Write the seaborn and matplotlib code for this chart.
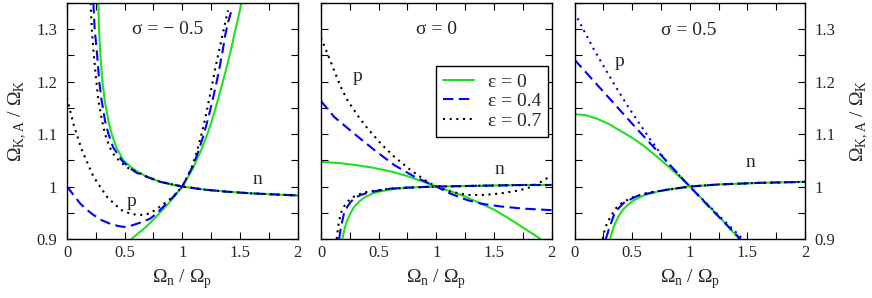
import matplotlib
matplotlib.use("Agg")
import matplotlib.pyplot as plt
import seaborn as sns
from matplotlib.ticker import MultipleLocator, FixedLocator
from matplotlib.lines import Line2D

# ---------------- data ----------------
eps_labels = ["ε = 0", "ε = 0.4", "ε = 0.7"]
sigma_labels = ["σ = − 0.5", "σ = 0", "σ = 0.5"]
x_ticks = [0, 0.5, 1, 1.5, 2]
x_tick_labels = ["0", "0.5", "1", "1.5", "2"]
y_ticks = [0.9, 1.0, 1.1, 1.2, 1.3]
y_tick_labels = ["0.9", "1", "1.1", "1.2", "1.3"]

# common tail of the n-curves (x > 1)
s1_n_tail_x = [1.2, 1.4, 1.6, 1.8, 2.0]
s1_n_tail_y = [0.994, 0.990, 0.987, 0.985, 0.983]
s2_n_tail_x = [1.25, 1.5, 1.75, 2.0]
s2_n_tail_y = [1.001, 1.002, 1.003, 1.003]
s3_n_tail_x = [1.25, 1.6, 2.0]
s3_n_tail_y = [1.004, 1.007, 1.009]

# sigma = -0.5
s1_p_e0_x = [0.56, 0.62, 0.69, 0.75, 0.81, 0.87, 0.92, 0.96, 1.0, 1.05, 1.1, 1.16, 1.215, 1.26, 1.30, 1.34, 1.38, 1.42, 1.452, 1.483, 1.513]
s1_p_e0_y = [0.90, 0.911, 0.924, 0.937, 0.951, 0.965, 0.978, 0.989, 1.0, 1.018, 1.038, 1.067, 1.098, 1.128, 1.158, 1.19, 1.223, 1.258, 1.29, 1.319, 1.35]
s1_p_e4_x = [0.0, 0.06, 0.113, 0.17, 0.229, 0.30, 0.374, 0.44, 0.49, 0.55, 0.606, 0.66, 0.722, 0.78, 0.838, 0.924, 1.0, 1.09, 1.14, 1.185, 1.225, 1.258, 1.292, 1.322, 1.35, 1.374, 1.40, 1.43]
s1_p_e4_y = [1.0, 0.983, 0.968, 0.956, 0.946, 0.936, 0.929, 0.925, 0.923, 0.925, 0.929, 0.933, 0.939, 0.949, 0.962, 0.981, 1.0, 1.038, 1.067, 1.098, 1.13, 1.16, 1.193, 1.225, 1.258, 1.29, 1.315, 1.338]
s1_p_e7_x = [0.0, 0.055, 0.128, 0.229, 0.345, 0.42, 0.475, 0.54, 0.606, 0.66, 0.722, 0.809, 0.924, 1.0, 1.08, 1.125, 1.165, 1.2, 1.229, 1.26, 1.287, 1.32, 1.35, 1.375, 1.397]
s1_p_e7_y = [1.169, 1.120, 1.070, 1.019, 0.981, 0.965, 0.955, 0.949, 0.946, 0.946, 0.949, 0.962, 0.981, 1.0, 1.035, 1.065, 1.098, 1.13, 1.162, 1.195, 1.226, 1.26, 1.29, 1.315, 1.336]
s1_n_e0_x = [0.272, 0.278, 0.29, 0.307, 0.33, 0.36, 0.388, 0.43, 0.49, 0.55, 0.62, 0.70, 0.81, 0.90, 1.0]
s1_n_e0_y = [1.35, 1.30, 1.25, 1.20, 1.16, 1.125, 1.10, 1.074, 1.05, 1.038, 1.027, 1.018, 1.009, 1.004, 1.0]
s1_n_e4_x = [0.229, 0.24, 0.258, 0.28, 0.30, 0.33, 0.36, 0.40, 0.475, 0.54, 0.606, 0.70, 0.81, 1.0]
s1_n_e4_y = [1.35, 1.30, 1.26, 1.20, 1.165, 1.125, 1.10, 1.075, 1.050, 1.036, 1.026, 1.018, 1.009, 1.0]
s1_n_e7_x = [0.205, 0.215, 0.229, 0.25, 0.272, 0.30, 0.33, 0.37, 0.417, 0.475, 0.533, 0.62, 0.70, 0.81, 1.0]
s1_n_e7_y = [1.35, 1.30, 1.26, 1.21, 1.165, 1.13, 1.10, 1.075, 1.057, 1.045, 1.035, 1.027, 1.018, 1.009, 1.0]

# sigma = 0
s2_p_e0_x = [0.0, 0.15, 0.3, 0.45, 0.6, 0.75, 0.875, 1.0, 1.125, 1.25, 1.375, 1.5, 1.625, 1.75, 1.83, 1.904]
s2_p_e0_y = [1.047, 1.045, 1.041, 1.036, 1.029, 1.020, 1.010, 1.0, 0.991, 0.981, 0.969, 0.956, 0.940, 0.922, 0.911, 0.90]
s2_p_e4_x = [0.0, 0.113, 0.287, 0.461, 0.635, 0.809, 1.0, 1.128, 1.272, 1.4, 1.562, 1.75, 2.0]
s2_p_e4_y = [1.163, 1.133, 1.101, 1.070, 1.041, 1.019, 1.0, 0.986, 0.974, 0.967, 0.962, 0.958, 0.955]
s2_p_e7_x = [0.0, 0.055, 0.113, 0.171, 0.229, 0.316, 0.403, 0.519, 0.635, 0.78, 0.924, 1.0, 1.128, 1.272, 1.42, 1.562, 1.7, 1.794, 1.91, 2.0]
s2_p_e7_y = [1.284, 1.254, 1.222, 1.19, 1.165, 1.136, 1.111, 1.082, 1.057, 1.031, 1.009, 1.0, 0.99, 0.984, 0.984, 0.987, 0.992, 0.997, 1.009, 1.021]
s2_n_e0_x = [0.186, 0.195, 0.21, 0.229, 0.26, 0.287, 0.33, 0.374, 0.45, 0.519, 0.62, 0.722, 0.85, 1.0]
s2_n_e0_y = [0.90, 0.91, 0.924, 0.936, 0.951, 0.961, 0.971, 0.979, 0.987, 0.991, 0.995, 0.997, 0.999, 1.0]
s2_n_e4_x = [0.157, 0.175, 0.2, 0.23, 0.258, 0.30, 0.345, 0.42, 0.49, 0.6, 0.75, 1.0]
s2_n_e4_y = [0.90, 0.925, 0.949, 0.962, 0.971, 0.979, 0.984, 0.989, 0.992, 0.996, 0.998, 1.0]
s2_n_e7_x = [0.136, 0.15, 0.171, 0.2, 0.229, 0.27, 0.316, 0.38, 0.461, 0.6, 0.75, 1.0]
s2_n_e7_y = [0.90, 0.925, 0.949, 0.962, 0.971, 0.979, 0.984, 0.989, 0.992, 0.996, 0.998, 1.0]

# sigma = 0.5
s3_p_e0_x = [0.0, 0.1, 0.2, 0.3, 0.4, 0.5, 0.6, 0.7, 0.8, 0.9, 1.0, 1.1, 1.2, 1.3, 1.428]
s3_p_e0_y = [1.138, 1.136, 1.129, 1.119, 1.106, 1.093, 1.078, 1.060, 1.041, 1.021, 1.0, 0.978, 0.955, 0.932, 0.90]
s3_p_e4_x = [0.0, 0.25, 0.5, 0.75, 1.0, 1.2, 1.44]
s3_p_e4_y = [1.242, 1.181, 1.120, 1.060, 1.0, 0.954, 0.90]
s3_p_e7_x = [0.0, 0.08, 0.167, 0.283, 0.37, 0.457, 0.56, 0.66, 0.804, 1.0, 1.2, 1.46]
s3_p_e7_y = [1.332, 1.298, 1.262, 1.218, 1.186, 1.155, 1.121, 1.089, 1.046, 1.0, 0.956, 0.90]
s3_n_e0_x = [0.31, 0.32, 0.34, 0.37, 0.40, 0.43, 0.457, 0.511, 0.56, 0.602, 0.657, 0.73, 0.804, 0.9, 1.0]
s3_n_e0_y = [0.90, 0.909, 0.923, 0.938, 0.95, 0.958, 0.964, 0.973, 0.979, 0.983, 0.987, 0.991, 0.994, 0.997, 1.0]
s3_n_e4_x = [0.272, 0.30, 0.341, 0.38, 0.428, 0.543, 0.66, 0.804, 1.0]
s3_n_e4_y = [0.90, 0.92, 0.945, 0.958, 0.969, 0.982, 0.988, 0.994, 1.0]
s3_n_e7_x = [0.245, 0.265, 0.286, 0.352, 0.40, 0.486, 0.63, 0.804, 1.0]
s3_n_e7_y = [0.90, 0.92, 0.932, 0.957, 0.967, 0.978, 0.988, 0.994, 1.0]

p_label_pos = [(0.56, 0.972), (0.32, 1.21), (0.39, 1.238)]
n_label_pos = [(1.65, 1.013), (1.55, 1.032), (1.53, 1.045)]
sigma_label_pos = [(0.87, 1.30), (1.0, 1.30), (0.99, 1.297)]

# ---------------- style ----------------
sns.set_theme(style="ticks")
plt.rcParams["font.family"] = ["Liberation Serif", "DejaVu Serif"]
plt.rcParams["mathtext.fontset"] = "custom"
plt.rcParams["mathtext.rm"] = "Liberation Serif"

GREEN = "#1fe01f"
BLUE = "#0000ff"
BLACK = "#000000"
LW = 1.5
DASH = (0, (5, 2.6))
DOT = (0, (1, 2.2))

fig = plt.figure(figsize=(8.72, 2.98), dpi=100)
W, H = 872, 298
lefts = [67, 321, 574.5]
axes = [fig.add_axes([l / W, 1 - 239 / H, 230.5 / W, 236 / H]) for l in lefts]

panels = [
    [(s1_p_e0_x, s1_p_e0_y, GREEN, "-"), (s1_p_e4_x, s1_p_e4_y, BLUE, DASH), (s1_p_e7_x, s1_p_e7_y, BLACK, DOT),
     (s1_n_e0_x + s1_n_tail_x, s1_n_e0_y + s1_n_tail_y, GREEN, "-"),
     (s1_n_e4_x + s1_n_tail_x, s1_n_e4_y + s1_n_tail_y, BLUE, DASH),
     (s1_n_e7_x + s1_n_tail_x, s1_n_e7_y + s1_n_tail_y, BLACK, DOT)],
    [(s2_p_e0_x, s2_p_e0_y, GREEN, "-"), (s2_p_e4_x, s2_p_e4_y, BLUE, DASH), (s2_p_e7_x, s2_p_e7_y, BLACK, DOT),
     (s2_n_e0_x + s2_n_tail_x, s2_n_e0_y + s2_n_tail_y, GREEN, "-"),
     (s2_n_e4_x + s2_n_tail_x, s2_n_e4_y + s2_n_tail_y, BLUE, DASH),
     (s2_n_e7_x + s2_n_tail_x, s2_n_e7_y + s2_n_tail_y, BLACK, DOT)],
    [(s3_p_e0_x, s3_p_e0_y, GREEN, "-"), (s3_p_e4_x, s3_p_e4_y, BLUE, DASH), (s3_p_e7_x, s3_p_e7_y, BLUE, DOT),
     (s3_n_e0_x + s3_n_tail_x, s3_n_e0_y + s3_n_tail_y, GREEN, "-"),
     (s3_n_e4_x + s3_n_tail_x, s3_n_e4_y + s3_n_tail_y, BLUE, DASH),
     (s3_n_e7_x + s3_n_tail_x, s3_n_e7_y + s3_n_tail_y, BLACK, DOT)],
]

xlab = "Ω$_{\\mathregular{n}}$ / Ω$_{\\mathregular{p}}$"
ylab = "Ω$_{\\mathregular{K,A}}$ / Ω$_{\\mathregular{K}}$"

for i, ax in enumerate(axes):
    for (xs, ys, c, ls) in panels[i]:
        sns.lineplot(x=xs, y=ys, ax=ax, color=c, linestyle=ls, linewidth=LW,
                     sort=False, estimator=None, legend=False)
    ax.set_xlim(0, 2)
    ax.set_ylim(0.9, 1.35)
    ax.xaxis.set_major_locator(FixedLocator(x_ticks))
    ax.set_xticklabels(x_tick_labels)
    ax.xaxis.set_minor_locator(MultipleLocator(0.25))
    ax.yaxis.set_major_locator(FixedLocator(y_ticks))
    ax.yaxis.set_minor_locator(MultipleLocator(0.05))
    ax.tick_params(which="both", direction="in", top=True, right=True, bottom=True, left=True,
                   length=5, width=0.8, color="black")
    ax.tick_params(axis="x", labelsize=12, pad=4)
    ax.tick_params(axis="y", labelsize=12, pad=7)
    for s in ax.spines.values():
        s.set_linewidth(1.0)
        s.set_color("black")
    ax.set_xlabel(xlab, fontsize=14, labelpad=5)
    if i == 0:
        ax.set_yticklabels(y_tick_labels)
        ax.set_ylabel(ylab, fontsize=14, labelpad=6)
    elif i == 1:
        ax.set_yticklabels([])
        ax.set_ylabel("")
    else:
        ax.yaxis.tick_right()
        ax.tick_params(which="both", left=True, right=True, labelleft=False, labelright=True)
        ax.set_yticklabels(y_tick_labels)
        ax.yaxis.set_label_position("right")
        ax.set_ylabel(ylab, fontsize=14, labelpad=9, rotation=90)
    ax.text(*sigma_label_pos[i], sigma_labels[i], fontsize=14, ha="center", va="center")
    ax.text(*p_label_pos[i], "p", fontsize=14, ha="center", va="center")
    ax.text(*n_label_pos[i], "n", fontsize=14, ha="center", va="center")

handles = [Line2D([], [], color=GREEN, lw=LW, linestyle="-"),
           Line2D([], [], color=BLUE, lw=LW, linestyle=DASH),
           Line2D([], [], color=BLACK, lw=LW, linestyle=DOT)]
leg = axes[1].legend(handles, eps_labels, loc="upper right", bbox_to_anchor=(0.986, 0.732),
                     borderaxespad=0, fontsize=14, frameon=True, fancybox=False, framealpha=1,
                     edgecolor="black", handlelength=1.6, labelspacing=0.1, borderpad=0.35,
                     handletextpad=0.75)
leg.get_frame().set_linewidth(1.0)

fig.savefig("out.png", dpi=100)
